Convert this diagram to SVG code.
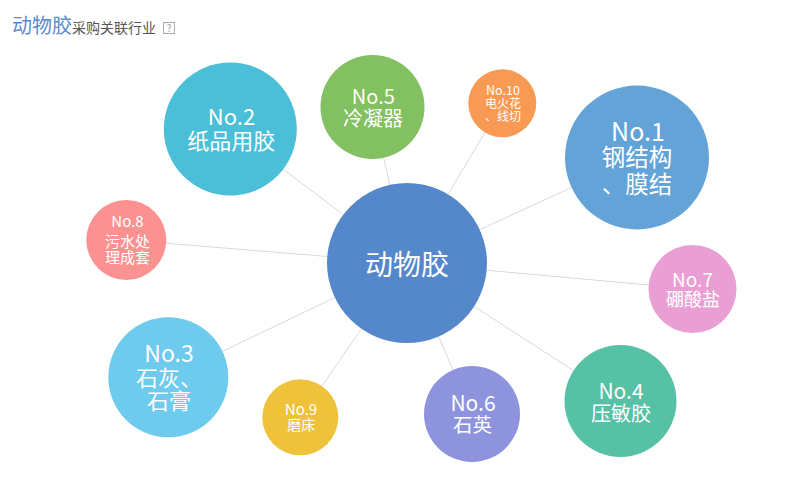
<svg xmlns="http://www.w3.org/2000/svg" width="794" height="490" viewBox="0 0 794 490">
<style>
text{font-family:"Noto Sans CJK SC","Microsoft YaHei",sans-serif;fill:#fff;text-anchor:middle}
.link{stroke:#d9d9d9;stroke-width:1;fill:none}
.title{fill:#5a8ad0;text-anchor:start;font-size:20px}
.sub{fill:#555;text-anchor:start;font-size:14px}
</style>
<rect width="794" height="490" fill="#fff"/>
<g id="title">
<text class="title" x="12" y="33">动物胶</text>
<text class="sub" x="72" y="33">采购关联行业</text>
<rect x="163.5" y="22.5" width="11" height="11" fill="#fff" stroke="#aaa"/>
<text x="169" y="32" style="fill:#999;font-size:10px">?</text>
</g>
<g id="connectors">
<line class="link" x1="407" y1="263" x2="637" y2="157.5"/>
<line class="link" x1="407" y1="263" x2="230.3" y2="129"/>
<line class="link" x1="407" y1="263" x2="168.3" y2="377.3"/>
<line class="link" x1="407" y1="263" x2="620.5" y2="401"/>
<line class="link" x1="407" y1="263" x2="372.5" y2="107"/>
<line class="link" x1="407" y1="263" x2="472" y2="414"/>
<line class="link" x1="407" y1="263" x2="692.5" y2="289"/>
<line class="link" x1="407" y1="263" x2="126.3" y2="240"/>
<line class="link" x1="407" y1="263" x2="300.3" y2="417.3"/>
<line class="link" x1="407" y1="263" x2="502.3" y2="103.3"/>
</g>
<g id="center">
<circle cx="407" cy="263" r="80" fill="#5588ca"/>
<text x="407" y="275" font-size="28">动物胶</text>
</g>
<g id="no1">
<circle cx="637" cy="157.5" r="72" fill="#64a3d8"/>
<text font-size="23.5"><tspan x="638" y="141" font-size="25">No.1</tspan><tspan x="637" y="166">钢结构</tspan><tspan x="637" y="193">、膜结</tspan></text>
</g>
<g id="no2">
<circle cx="230.3" cy="129" r="66.5" fill="#4bbfd7"/>
<text font-size="22"><tspan x="231.5" y="125">No.2</tspan><tspan x="231.3" y="149">纸品用胶</tspan></text>
</g>
<g id="no5">
<circle cx="372.5" cy="107" r="52" fill="#82c061"/>
<text font-size="20"><tspan x="373.3" y="104">No.5</tspan><tspan x="373" y="126">冷凝器</tspan></text>
</g>
<g id="no10">
<circle cx="502.3" cy="103.3" r="34" fill="#f99a54"/>
<text font-size="12"><tspan x="503" y="95" font-size="12.5">No.10</tspan><tspan x="503" y="108">电火花</tspan><tspan x="503" y="121">、线切</tspan></text>
</g>
<g id="no8">
<circle cx="126.3" cy="240" r="40" fill="#fb9291"/>
<text font-size="15"><tspan x="127.5" y="227">No.8</tspan><tspan x="127.5" y="247">污水处</tspan><tspan x="127.5" y="263">理成套</tspan></text>
</g>
<g id="no7">
<circle cx="692.5" cy="289" r="44" fill="#e99fd3"/>
<text font-size="18"><tspan x="692.5" y="287" font-size="19">No.7</tspan><tspan x="693" y="306">硼酸盐</tspan></text>
</g>
<g id="no3">
<circle cx="168.3" cy="377.3" r="60" fill="#6ecbee"/>
<text font-size="22"><tspan x="169" y="362" font-size="23">No.3</tspan><tspan x="169" y="386">石灰、</tspan><tspan x="169" y="409">石膏</tspan></text>
</g>
<g id="no9">
<circle cx="300.3" cy="417.3" r="38" fill="#eec33b"/>
<text font-size="14"><tspan x="301" y="415" font-size="15">No.9</tspan><tspan x="301.3" y="430">磨床</tspan></text>
</g>
<g id="no6">
<circle cx="472" cy="414" r="48" fill="#8d93dd"/>
<text font-size="19.5"><tspan x="473" y="411" font-size="21">No.6</tspan><tspan x="472.5" y="432">石英</tspan></text>
</g>
<g id="no4">
<circle cx="620.5" cy="401" r="56" fill="#57c1a6"/>
<text font-size="20"><tspan x="621" y="399" font-size="21">No.4</tspan><tspan x="621" y="421">压敏胶</tspan></text>
</g>
</svg>
